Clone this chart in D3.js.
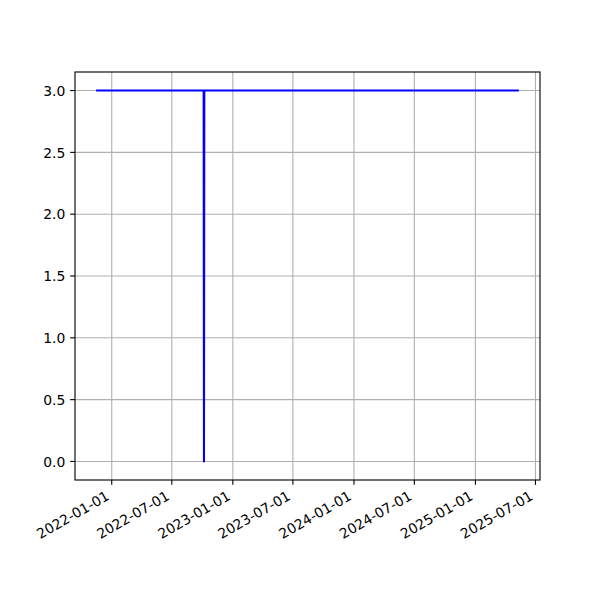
<!DOCTYPE html>
<html><head><meta charset="utf-8">
<script src="https://cdn.jsdelivr.net/npm/d3@7"></script>
<style>body{margin:0;background:#fff}svg{display:block}text{font-family:"DejaVu Sans",sans-serif;font-size:13.9px;fill:#000}</style>
</head><body>
<script>
const dates = ["2021-11-15","2022-10-05","2022-10-06","2022-10-07","2025-05-12"];
const values = [3,3,0,3,3];
const xTicks = ["2022-01-01","2022-07-01","2023-01-01","2023-07-01","2024-01-01","2024-07-01","2025-01-01","2025-07-01"];
const yTicks = [0,0.5,1,1.5,2,2.5,3];

const parse = d3.utcParse("%Y-%m-%d");
const data = dates.map((d,i)=>({t:parse(d),v:values[i]}));
const W=600,H=600, L=75, R=540, T=72, B=480;
const fs = 13.9, tickLen = 4.86, pad = 4.86;
const svg = d3.select("body").append("svg").attr("width",W).attr("height",H);

const [t0,t1] = d3.extent(data,d=>d.t);
const span = t1-t0;
const x = d3.scaleUtc().domain([new Date(+t0-span*0.05), new Date(+t1+span*0.05)]).range([L,R]);
const y = d3.scaleLinear().domain([-0.15,3.15]).range([B,T]);

// grid
svg.append("g").selectAll("line").data(xTicks).join("line")
  .attr("x1",d=>x(parse(d))).attr("x2",d=>x(parse(d))).attr("y1",T).attr("y2",B)
  .attr("stroke","#b0b0b0").attr("stroke-width",1.11);
svg.append("g").selectAll("line").data(yTicks).join("line")
  .attr("y1",d=>y(d)).attr("y2",d=>y(d)).attr("x1",L).attr("x2",R)
  .attr("stroke","#b0b0b0").attr("stroke-width",1.11);

// line
svg.append("path").datum(data)
  .attr("d",d3.line().x(d=>x(d.t)).y(d=>y(d.v)))
  .attr("fill","none").attr("stroke","blue").attr("stroke-width",2.08)
  .attr("stroke-linejoin","round").attr("stroke-linecap","butt");

// frame
svg.append("rect").attr("x",L).attr("y",T).attr("width",R-L).attr("height",B-T)
  .attr("fill","none").attr("stroke","#000").attr("stroke-width",1.11);

// x ticks
const A = 0.76*fs, D = 0.208*fs;
const xg = svg.append("g");
xg.selectAll("line").data(xTicks).join("line")
  .attr("x1",d=>x(parse(d))).attr("x2",d=>x(parse(d))).attr("y1",B).attr("y2",B+tickLen)
  .attr("stroke","#000").attr("stroke-width",1.11);
xg.selectAll("text").data(xTicks).join("text")
  .attr("transform",d=>`translate(${x(parse(d)) - 0.5*D},${B+tickLen+pad+0.866*A}) rotate(-30)`)
  .attr("text-anchor","end").text(d=>d);

// y ticks
const yg = svg.append("g");
yg.selectAll("line").data(yTicks).join("line")
  .attr("y1",d=>y(d)).attr("y2",d=>y(d)).attr("x1",L-tickLen).attr("x2",L)
  .attr("stroke","#000").attr("stroke-width",1.11);
yg.selectAll("text").data(yTicks).join("text")
  .attr("x",L-tickLen-pad).attr("y",d=>y(d)).attr("dy","0.38em").attr("text-anchor","end")
  .text(d=>d3.format(".1f")(d));
</script>
</body></html>
